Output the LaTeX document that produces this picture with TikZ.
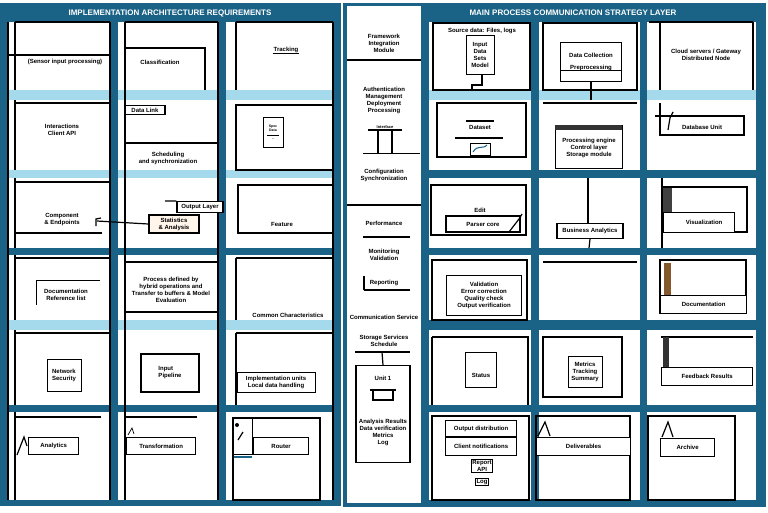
\documentclass[tikz,border=0pt]{standalone}
\usepackage{fontspec}
\setmainfont{Liberation Sans}
\definecolor{tealA}{RGB}{26,98,134}
\definecolor{lightA}{RGB}{165,218,236}
\begin{document}
\begin{tikzpicture}[x=1pt,y=-1pt,
  colw/.style={fill=white},
  lstrip/.style={fill=lightA},
  dstrip/.style={fill=tealA},
  bx/.style={draw=black,line width=1.2pt,fill=white},
  ln/.style={draw=black,line width=1.2pt},
  thin/.style={draw=black,line width=0.7pt},
  txt/.style={font=\fontsize{6}{7}\selectfont\bfseries,text=black,inner sep=0.5pt,align=center},
  ttl/.style={font=\fontsize{8}{9}\selectfont\bfseries,text=white,inner sep=1pt}]
\useasboundingbox (0,0) rectangle (768,512);
\fill[white] (0,0) rectangle (768,512);
% panels
\fill[tealA] (0,3) rectangle (341,506);
\fill[tealA] (343,3) rectangle (425,507);
\fill[white] (347,6) rectangle (421,503);
\fill[tealA] (425,3) rectangle (766,507);
% left columns
\foreach \a/\b in {8/110,118/218,226/333}{
  \fill[colw] (\a,22) rectangle (\b,500);
  \fill[lstrip] (\a,90) rectangle (\b,100);
  \fill[lstrip] (\a,170) rectangle (\b,178);
  \fill[dstrip] (\a,248) rectangle (\b,255);
  \fill[lstrip] (\a,320) rectangle (\b,330);
  \fill[dstrip] (\a,405) rectangle (\b,412);
}
% right columns
\foreach \a/\b in {429/531,539/640,647/756}{
  \fill[colw] (\a,22) rectangle (\b,500);
  \fill[lstrip] (\a,90) rectangle (\b,100);
  \fill[dstrip] (\a,170) rectangle (\b,178);
  \fill[dstrip] (\a,248) rectangle (\b,255);
  \fill[dstrip] (\a,320) rectangle (\b,330);
  \fill[dstrip] (\a,405) rectangle (\b,412);
}
% titles
\node[ttl] (tL) at (170,13) {IMPLEMENTATION ARCHITECTURE REQUIREMENTS};
\node[ttl] (tR) at (573,13) {MAIN PROCESS COMMUNICATION STRATEGY LAYER};

% ===== LEFT PANEL =====
\draw[ln] (8,22) -- (8,500);
\draw[ln] (15,22) -- (15,90) (15,100) -- (15,170) (15,178) -- (15,248) (15,255) -- (15,320) (15,330) -- (15,405) (15,412) -- (15,500);
\draw[ln] (110,22) -- (110,500);
\draw[ln] (125,22) -- (125,500);
\draw[ln] (218,22) -- (218,500);
\draw[ln] (333,22) -- (333,500);
\draw[ln] (15,22) -- (110,22) (125,22) -- (218,22) (236,22) -- (333,22);
% row1
\draw[ln] (8,55) -- (110,55);
\node[txt] (l11) at (65,62) {(Sensor input processing)};
\draw[ln] (125,48) -- (205,48) -- (205,90);
\node[txt] (l12) at (160,62) {Classification};
\draw[ln] (236,22) -- (236,90);
\node[txt] (l13) at (286,50) {Tracking};
\draw[thin] (l13.south west) -- (l13.south east);
% row2
\draw[ln] (15,103) -- (110,103);
\node[txt] (l21) at (62,130) {Interactions\\Client API};
\node[bx,txt,minimum width=40pt,minimum height=9pt] (l22a) at (145,110) {Data Link};
\draw[ln] (125,143) -- (218,143);
\node[txt] (l22) at (168,158) {Scheduling\\and synchronization};
\draw[ln] (236,105) rectangle (333,170);
\node[bx,thin,txt,minimum width=20pt,minimum height=30pt,font=\fontsize{3.5}{4}\selectfont\bfseries] (l23) at (273,132) {Spec\\Data\\\rule{12pt}{0.6pt}\\..};
% row3
\draw[ln] (15,182) -- (110,182);
\draw[ln] (15,233) -- (102,233);
\node[txt] (l31) at (62,220) {Component\\\& Endpoints};
\coordinate (l31e) at (97,221);
\node[bx,txt,minimum width=50pt,minimum height=18pt,fill=orange!8] (l32) at (174,224) {Statistics\\\& Analysis};
\draw[ln] (l31e) -- (l32.west);
\draw[ln] (96,226) -- (96,219) -- (101,218);
\node[bx,txt,minimum width=46pt,minimum height=11pt] (l32b) at (200,207) {Output Layer};
\draw[ln] (165,201) -- (l32b.north west);
\draw[ln] (238,185) rectangle (333,233);
\node[txt] (l33) at (282,224) {Feature};
% row4
\draw[ln] (15,258) -- (110,258);
\draw[thin] (36,280) -- (100,280) (36,280) -- (36,305);
\node[txt] (l41) at (66,295) {Documentation\\Reference list};
\draw[ln] (125,262) rectangle (218,312);
\node[txt] (l42) at (171,290) {Process defined by\\hybrid operations and\\Transfer to buffers \& Model\\Evaluation};
\draw[ln] (236,258) -- (333,258) (236,258) -- (236,320);
\node[txt] (l43) at (288,315) {Common Characteristics};
% row5
\draw[ln] (15,333) -- (110,333);
\node[bx,thin,txt,minimum width=34pt,minimum height=32pt] (l51) at (64,375) {Network\\Security};
\node[bx,txt,minimum width=58pt,minimum height=38pt,align=left] (l52) at (170,373) {Input\\Pipeline};
\draw[ln] (236,333) -- (333,333) (236,333) -- (236,405);
\node[bx,thin,txt,minimum width=78pt,minimum height=20pt] (l53) at (276,382) {Implementation units\\Local data handling};
% row6
\draw[ln] (15,417) -- (101,417);
\node[bx,txt,minimum width=50pt,minimum height=17pt,anchor=west] (l61) at (28,446) {Analytics};
\draw[ln] (17,455) -- (24,437) -- (27,446);
\draw[ln] (125,417) -- (197,417);
\node[bx,txt,minimum width=69pt,minimum height=17pt,anchor=west] (l62) at (126,446) {Transformation};
\draw[thin] (128,435) -- (132,428) -- (134,434);
\draw[ln] (233,418) rectangle (320,500);
\node[bx,thin,minimum width=19pt,minimum height=36pt,anchor=north west] (l63i) at (233,418) {};
\draw[ln] (238,440) -- (243,432);
\fill[black] (237,425) circle (2);
\draw[tealA,line width=1.5pt] (234,457) -- (252,457);
\node[bx,txt,minimum width=55pt,minimum height=17pt,anchor=west] (l63) at (253,446) {Router};

% ===== MIDDLE STRIP =====
\node[txt] (m1) at (384,43) {Framework\\Integration\\Module};
\draw[ln] (347,60) -- (421,60);
\node[txt] (m2) at (384,100) {Authentication\\Management\\Deployment\\Processing};
\draw[ln] (368,130) -- (402,130);
\node[txt,font=\fontsize{4}{5}\selectfont\bfseries] (m2b) at (385,127) {Interface};
\draw[ln] (378,130) -- (378,153) (392,130) -- (392,153);
\draw[thin] (363,153) -- (420,153);
\node[txt] (m3) at (384,175) {Configuration\\Synchronization};
\draw[ln] (347,205) -- (421,205);
\node[txt] (m4) at (384,223) {Performance};
\draw[ln] (363,237) -- (410,237);
\node[txt] (m5) at (384,255) {Monitoring\\Validation};
\node[txt] (m6) at (384,283) {Reporting};
\draw[ln] (364,290) -- (410,290) (364,276) -- (364,290);
\node[txt] (m7) at (384,317) {Communication Service};
\node[txt] (m8) at (384,341) {Storage Services\\Schedule};
\draw[ln] (355,352) -- (410,352);
\node[bx,minimum width=54pt,minimum height=97pt,anchor=north] (m9) at (383,365) {};
\draw[ln] (382,352) -- (m9.north);
\node[txt] (m9a) at (383,378) {Unit 1};
\draw[ln] (370,390) -- (396,390);
\draw[ln] (373,390) -- (373,400) -- (393,400) -- (393,390);
\node[txt] (m9b) at (383,432) {Analysis Results\\Data verification\\Metrics\\Log};

% ===== RIGHT PANEL =====
% row1
\draw[ln] (433,23) rectangle (530,90);
\node[txt] (r11t) at (482,31) {Source data: Files, logs};
\node[bx,thin,txt,minimum width=28pt,minimum height=39pt] (r11) at (480,55) {Input\\Data\\Sets\\Model};
\draw[ln] (482,74.5) -- (482,85) -- (472,85) -- (472,90);
\draw[ln] (543,23) rectangle (637,90);
\node[bx,txt,minimum width=61pt,minimum height=39pt] (r12) at (591,62) {Data Collection\\[5pt]Preprocessing};
\draw[thin] (r12.west |- 0,70) -- (r12.east |- 0,70);
\draw[ln] (r12.south) -- (591,100);
\draw[ln] (660,22) -- (660,90) (649,22) -- (753,22) (753,22) -- (753,90);
\node[txt] (r13) at (706,55) {Cloud servers / Gateway\\Distributed Node};
% row2
\draw[ln] (437,103) rectangle (526,157);
\node[txt] (r21) at (480,127) {Dataset};
\draw[ln] (466,121) -- (494,121);
\draw[ln] (455,138) -- (503,138);
\node[bx,thin,minimum width=20pt,minimum height=12pt] (r21i) at (480,149) {};
\draw[tealA,line width=1pt] (473,152) .. controls (478,144) and (482,150) .. (487,145);
\draw[ln] (543,103) -- (637,103);
\node[bx,txt,minimum width=67pt,minimum height=43pt,anchor=north] (r22) at (589,125) {\\Processing engine\\Control layer\\Storage module};
\fill[black!80] (555,125) rectangle (622,130);
\draw[ln] (655,116) -- (744,116) -- (744,135) -- (660,135) -- (660,103);
\node[txt] (r23) at (702,127) {Database Unit};
\draw[ln] (668,130) -- (670,118) -- (673,112);
% row3
\draw[ln] (431,185) rectangle (526,235);
\node[txt] (r31t) at (480,210) {Edit};
\node[bx,txt,minimum width=74pt,minimum height=16pt] (r31) at (483,224) {Parser core};
\draw[ln] (509,232) -- (519,219) -- (522,214);
\draw[ln] (588,178) -- (588,223);
\node[bx,txt,minimum width=66pt,minimum height=15pt] (r32) at (590,231) {Business Analytics};
\draw[ln] (r32.south) -- (589,248);
\draw[ln] (663,187) rectangle (747,232);
\fill[black!75] (663,188) rectangle (672,212);
\node[bx,txt,minimum width=71pt,minimum height=20pt,anchor=north west] (r33) at (663,212) {\hspace{10pt}Visualization};
\draw[ln] (662,178) -- (662,248);
% row4
\draw[ln] (432,260) rectangle (527,320);
\node[bx,thin,txt,minimum width=75pt,minimum height=40pt] (r41) at (484,295) {Validation\\Error correction\\Quality check\\Output verification};
\draw[ln] (543,262) -- (637,262);
\draw[ln] (660,260) rectangle (746,313);
\fill[brown!70!black] (664,263) rectangle (671,295);
\node[bx,txt,minimum width=86pt,minimum height=18pt,anchor=north west] (r43) at (660,295) {Documentation};
% row5
\draw[ln] (432,337) -- (432,405) (432,337) -- (528,337) -- (528,405);
\node[bx,thin,txt,minimum width=31pt,minimum height=35pt] (r51) at (481,370) {\\[8pt]Status};
\draw[ln] (543,337) rectangle (622,397);
\node[bx,thin,txt,minimum width=34pt,minimum height=31pt] (r52) at (585,372) {Metrics\\Tracking\\Summary};
\draw[ln] (661,337) -- (753,337);
\fill[black!80] (663,337) rectangle (669,367);
\node[bx,txt,minimum width=91pt,minimum height=18pt,anchor=north west] (r53) at (661,367) {Feedback Results};
% row6
\draw[ln] (432,416) rectangle (529,500);
\node[bx,txt,minimum width=71pt,minimum height=16pt,anchor=north west] (r61a) at (445,420) {Output distribution};
\node[bx,txt,minimum width=71pt,minimum height=18pt,anchor=north west] (r61b) at (445,437) {Client notifications};
\node[txt,draw=black,thin,inner sep=1pt] (r61c) at (482,466) {Report\\API};
\node[txt,draw=black,thin,inner sep=1pt] (r61d) at (482,482) {Log};
\draw[ln] (536,416) rectangle (630,500);
\node[bx,txt,minimum width=94pt,minimum height=18pt,anchor=north west,align=left] (r62) at (536,437) {Deliverables};
\draw[ln] (538,436) -- (545,422) -- (550,436);
\draw[ln] (648,416) rectangle (735,500);
\node[bx,txt,minimum width=54pt,minimum height=18pt,anchor=north west] (r63) at (660,438) {Archive};
\draw[ln] (662,437) -- (668,422) -- (673,437);
\end{tikzpicture}
\end{document}
